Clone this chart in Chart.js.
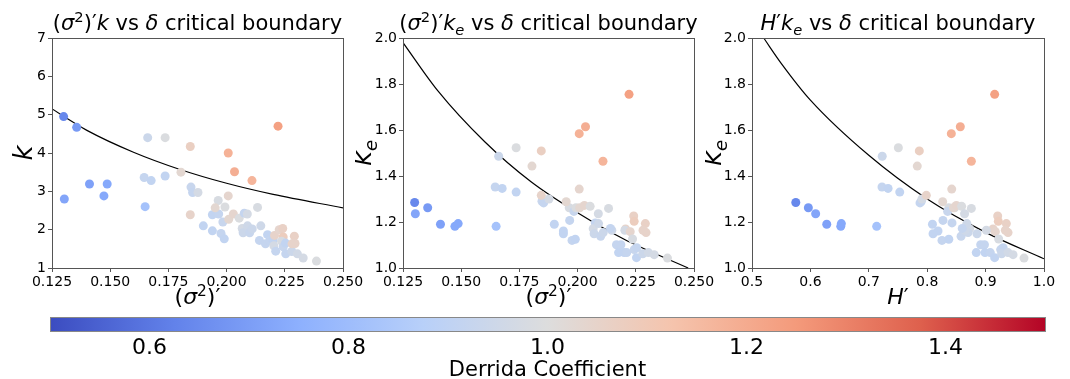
<!DOCTYPE html>
<html>
<head>
<meta charset="utf-8">
<script src="https://cdn.jsdelivr.net/npm/chart.js@4.4.1/dist/chart.umd.min.js"></script>
<style>
  body { margin: 0; background: #fff; }
  canvas { position: absolute; }
</style>
</head>
<body>
<canvas id="c1" width="365" height="310" style="left:0;top:0"></canvas>
<canvas id="c2" width="365" height="310" style="left:355px;top:0"></canvas>
<canvas id="c3" width="365" height="310" style="left:705px;top:0"></canvas>
<canvas id="cbar" width="1070" height="79" style="left:0;top:300px"></canvas>
<script>
// per-network values
const sigmaPrime = [0.130, 0.1303, 0.1356, 0.1411, 0.1473, 0.1487, 0.1650, 0.1646, 0.1676, 0.1661,
  0.1736, 0.1736, 0.1804, 0.1844, 0.1847, 0.1854, 0.1877, 0.1844, 0.1900, 0.1939,
  0.1939, 0.1966, 0.1964, 0.1951, 0.1976, 0.1984, 0.1993, 0.1990, 0.2007, 0.2007,
  0.2009, 0.2029, 0.2034, 0.2054, 0.2076, 0.2089, 0.2067, 0.2071, 0.2090, 0.2099,
  0.2110, 0.2109, 0.2133, 0.2147, 0.2141, 0.2167, 0.2176, 0.2186, 0.2200, 0.2206,
  0.2203, 0.2211, 0.2221, 0.2226, 0.2241, 0.2243, 0.2236, 0.2243, 0.2253, 0.2254,
  0.2280, 0.2291, 0.2294, 0.2281, 0.2304, 0.2329, 0.2386];
const kValues = [4.95, 2.80, 4.67, 3.19, 2.88, 3.19, 2.60, 3.36, 3.28, 4.40,
  4.40, 3.40, 3.50, 4.17, 3.11, 2.97, 2.97, 2.39, 2.10, 2.39,
  1.97, 2.41, 2.76, 2.57, 1.90, 2.20, 2.59, 1.76, 4.00, 2.88,
  2.27, 2.41, 3.51, 2.30, 2.43, 2.41, 2.03, 1.92, 2.10, 1.92,
  2.02, 3.28, 2.58, 2.10, 1.72, 1.63, 1.87, 1.71, 1.73, 1.85,
  1.58, 1.44, 4.70, 2.00, 2.03, 1.81, 1.70, 1.55, 1.65, 1.37,
  1.43, 1.83, 1.64, 1.63, 1.37, 1.26, 1.18];
const keValues = [1.285, 1.236, 1.262, 1.190, 1.181, 1.193, 1.181, 1.352, 1.346, 1.486,
  1.523, 1.330, 1.443, 1.509, 1.290, 1.283, 1.300, 1.316, 1.190, 1.161,
  1.149, 1.207, 1.262, 1.288, 1.120, 1.246, 1.262, 1.125, 1.584, 1.343,
  1.262, 1.272, 1.614, 1.268, 1.196, 1.236, 1.171, 1.149, 1.193, 1.138,
  1.154, 1.464, 1.259, 1.164, 1.172, 1.101, 1.067, 1.101, 1.067, 1.170,
  1.164, 1.067, 1.755, 1.158, 1.226, 1.203, 1.126, 1.080, 1.045, 1.088,
  1.062, 1.193, 1.154, 1.164, 1.067, 1.058, 1.043];
const hPrime = [0.575, 0.609, 0.5965, 0.628, 0.652, 0.653, 0.7135, 0.7226, 0.733, 0.723,
  0.7506, 0.753, 0.783, 0.7865, 0.790, 0.7877, 0.791, 0.7985, 0.809, 0.8185,
  0.810, 0.827, 0.837, 0.8265, 0.8253, 0.835, 0.847, 0.837, 0.8413, 0.842,
  0.845, 0.8499, 0.8567, 0.859, 0.8425, 0.864, 0.8727, 0.8853, 0.868, 0.858,
  0.870, 0.8756, 0.8756, 0.8647, 0.860, 0.8916, 0.884, 0.898, 0.899, 0.9127,
  0.9013, 0.908, 0.9155, 0.9167, 0.9207, 0.9218, 0.9224, 0.9258, 0.9155, 0.930,
  0.9275, 0.9355, 0.9384, 0.9338, 0.9384, 0.947, 0.9658];
const derrida = [0.64, 0.72, 0.69, 0.71, 0.73, 0.73, 0.82, 0.92, 0.91, 0.94,
  0.99, 0.91, 1.03, 1.07, 0.93, 0.92, 0.97, 1.05, 0.91, 0.91,
  0.91, 0.92, 0.98, 1.03, 0.92, 0.93, 0.99, 0.91, 1.18, 1.04,
  1.03, 1.04, 1.19, 0.99, 0.92, 0.97, 0.97, 0.94, 0.95, 0.93,
  0.94, 1.17, 0.98, 0.95, 0.92, 0.92, 0.91, 0.92, 0.91, 1.05,
  0.97, 0.92, 1.23, 1.04, 1.06, 1.08, 0.98, 0.93, 0.91, 0.92,
  0.94, 1.06, 1.05, 1.05, 0.96, 0.97, 0.99];

// critical boundary curves
const boundSigma = [0.125, 0.14, 0.16, 0.18, 0.20, 0.22, 0.25];
const boundK = [5.15, 4.59, 4.02, 3.57, 3.21, 2.92, 2.57];
const boundSigmaE = [0.125, 0.14, 0.16, 0.18, 0.20, 0.22, 0.2475];
const boundKeSigma = [1.98, 1.77, 1.55, 1.375, 1.24, 1.125, 1.0];
const boundH = [0.52, 0.55, 0.60, 0.70, 0.80, 0.90, 1.0];
const boundKeH = [2.0, 1.89, 1.73, 1.49, 1.30, 1.155, 1.04];

// tick labels
const sigmaTicks = [0.125, 0.150, 0.175, 0.200, 0.225, 0.250];
const kTicks = [1, 2, 3, 4, 5, 6, 7];
const keTicks = [1.0, 1.2, 1.4, 1.6, 1.8, 2.0];
const hTicks = [0.5, 0.6, 0.7, 0.8, 0.9, 1.0];
const cbarTicks = [0.6, 0.8, 1.0, 1.2, 1.4];

const FONT = '"DejaVu Sans", sans-serif';
const VMIN = 0.5, VMAX = 1.5;

// matplotlib coolwarm, sampled every 1/8
const coolwarm = [[59,76,192],[98,130,234],[141,176,254],[184,208,249],[221,221,221],
  [245,196,173],[244,154,123],[222,96,77],[180,4,38]];

function cmap(v) {
  let t = Math.min(1, Math.max(0, (v - VMIN) / (VMAX - VMIN))) * (coolwarm.length - 1);
  let i = Math.min(coolwarm.length - 2, Math.floor(t)), f = t - i;
  let c = coolwarm[i].map((a, j) => Math.round(a + (coolwarm[i + 1][j] - a) * f));
  return 'rgb(' + c.join(',') + ')';
}

// draws text made of [string, style] pieces, centred on cx
function drawRich(ctx, segs, cx, y, size) {
  const parts = segs.map(([t, st]) => {
    const small = st === 'sup' || st === 'sub';
    const fs = small ? size * 0.7 : size;
    const font = (st === 'i' || st === 'sub' ? 'italic ' : '') + fs + 'px ' + FONT;
    ctx.font = font;
    return { t, font, w: ctx.measureText(t).width, dy: st === 'sup' ? -size * 0.38 : st === 'sub' ? size * 0.22 : 0 };
  });
  let x = cx - parts.reduce((s, p) => s + p.w, 0) / 2;
  ctx.fillStyle = '#000';
  ctx.textAlign = 'left';
  ctx.textBaseline = 'alphabetic';
  parts.forEach(p => { ctx.font = p.font; ctx.fillText(p.t, x, y + p.dy); x += p.w; });
}

function decor(title, xLabel, yLabel, yOff) {
  return {
    id: 'decor',
    afterDraw(chart) {
      const ctx = chart.ctx, a = chart.chartArea;
      ctx.save();
      ctx.strokeStyle = '#555';
      ctx.lineWidth = 1;
      ctx.strokeRect(Math.round(a.left) + 0.5, Math.round(a.top) + 0.5, Math.round(a.right - a.left), Math.round(a.bottom - a.top));
      const cx = (a.left + a.right) / 2;
      drawRich(ctx, title, cx, 30, 21);
      drawRich(ctx, xLabel, cx, a.bottom + 36, 22);
      ctx.translate(a.left - yOff, (a.top + a.bottom) / 2);
      ctx.rotate(-Math.PI / 2);
      drawRich(ctx, yLabel, 0, 0, 26);
      ctx.restore();
    }
  };
}

function axis(min, max, ticks, dec, fit) {
  return {
    type: 'linear', min, max,
    afterBuildTicks: s => { s.ticks = ticks.map(v => ({ value: v })); },
    afterFit: fit,
    ticks: { font: { family: FONT, size: 14 }, color: '#000', padding: 2, autoSkip: false, maxRotation: 0,
      callback: v => v.toFixed(dec) },
    grid: { drawOnChartArea: false, tickLength: 4, color: '#555' },
    border: { color: '#555' }
  };
}

function makePanel(id, xs, ys, bx, by, xr, yr, padRight, yWidth, labels) {
  const pts = xs.map((x, i) => ({ x, y: ys[i] }));
  const curve = bx.map((x, i) => ({ x, y: by[i] }));
  new Chart(document.getElementById(id), {
    type: 'scatter',
    data: {
      datasets: [
        { data: pts, pointBackgroundColor: derrida.map(cmap), pointBorderWidth: 0, pointRadius: 4.5 },
        { data: curve, showLine: true, pointRadius: 0, borderColor: '#000', borderWidth: 1.2,
          cubicInterpolationMode: 'monotone', fill: false }
      ]
    },
    options: {
      responsive: false, devicePixelRatio: 1, animation: false,
      layout: { padding: { top: 38, left: 0, right: padRight, bottom: 0 } },
      plugins: { legend: { display: false }, tooltip: { enabled: false } },
      scales: {
        x: axis(xr[0], xr[1], xr[2], xr[3], s => { s.height = 42; s.paddingLeft = 0; s.paddingRight = 0; }),
        y: axis(yr[0], yr[1], yr[2], yr[3], s => { s.width = yWidth; s.paddingTop = 0; s.paddingBottom = 0; })
      }
    },
    plugins: [decor(labels.title, labels.x, labels.y, labels.yOff)]
  });
}

const sigLabel = [['(', 'n'], ['σ', 'i'], ['2', 'sup'], [')′', 'n']];

makePanel('c1', sigmaPrime, kValues, boundSigma, boundK,
  [0.125, 0.25, sigmaTicks, 3], [1, 7, kTicks, 0], 22, 52,
  { title: [['(', 'n'], ['σ', 'i'], ['2', 'sup'], [')′', 'n'], ['k', 'i'], [' vs ', 'n'], ['δ', 'i'], [' critical boundary', 'n']],
    x: sigLabel, y: [['k', 'i']], yOff: 20 });

makePanel('c2', sigmaPrime, keValues, boundSigmaE, boundKeSigma,
  [0.125, 0.25, sigmaTicks, 3], [1, 2, keTicks, 1], 26, 48,
  { title: [['(', 'n'], ['σ', 'i'], ['2', 'sup'], [')′', 'n'], ['k', 'i'], ['e', 'sub'], [' vs ', 'n'], ['δ', 'i'], [' critical boundary', 'n']],
    x: sigLabel, y: [['k', 'i'], ['e', 'sub']], yOff: 32 });

makePanel('c3', hPrime, keValues, boundH, boundKeH,
  [0.5, 1.0, hTicks, 1], [1, 2, keTicks, 1], 26, 47,
  { title: [['H', 'i'], ['′', 'n'], ['k', 'i'], ['e', 'sub'], [' vs ', 'n'], ['δ', 'i'], [' critical boundary', 'n']],
    x: [['H', 'i'], ['′', 'n']], y: [['k', 'i'], ['e', 'sub']], yOff: 31 });

// colour bar
const cbarFill = {
  id: 'cbarFill',
  beforeDatasetsDraw(chart) {
    const ctx = chart.ctx, a = chart.chartArea;
    const g = ctx.createLinearGradient(a.left, 0, a.right, 0);
    coolwarm.forEach((c, i) => g.addColorStop(i / (coolwarm.length - 1), 'rgb(' + c.join(',') + ')'));
    ctx.save();
    ctx.fillStyle = g;
    ctx.fillRect(a.left, a.top, a.right - a.left, a.bottom - a.top);
    ctx.strokeStyle = '#888';
    ctx.lineWidth = 1;
    ctx.strokeRect(Math.round(a.left) + 0.5, Math.round(a.top) + 0.5, Math.round(a.right - a.left), Math.round(a.bottom - a.top));
    ctx.fillStyle = '#000';
    ctx.font = '21px ' + FONT;
    ctx.textAlign = 'center';
    ctx.fillText('Derrida Coefficient', (a.left + a.right) / 2, 76);
    ctx.restore();
  }
};

new Chart(document.getElementById('cbar'), {
  type: 'scatter',
  data: { datasets: [] },
  options: {
    responsive: false, devicePixelRatio: 1, animation: false,
    layout: { padding: { top: 17, left: 50, right: 25, bottom: 0 } },
    plugins: { legend: { display: false }, tooltip: { enabled: false } },
    scales: {
      x: {
        type: 'linear', min: VMIN, max: VMAX,
        afterBuildTicks: s => { s.ticks = cbarTicks.map(v => ({ value: v })); },
        afterFit: s => { s.height = 48; s.paddingLeft = 0; s.paddingRight = 0; },
        ticks: { font: { family: FONT, size: 22 }, color: '#000', padding: 4, autoSkip: false, maxRotation: 0,
          callback: v => v.toFixed(1) },
        grid: { display: false, drawTicks: false },
        border: { display: false }
      },
      y: { display: false, min: 0, max: 1 }
    }
  },
  plugins: [cbarFill]
});
</script>
</body>
</html>
